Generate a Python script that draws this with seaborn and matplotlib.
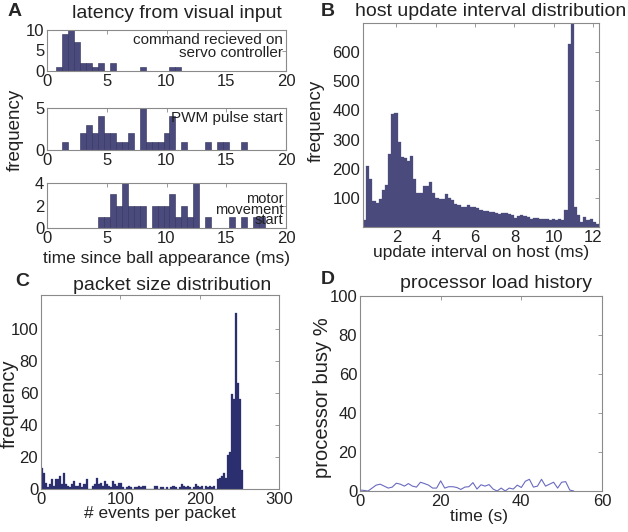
import numpy as np
import pandas as pd
import matplotlib
matplotlib.use('Agg')
import matplotlib.pyplot as plt
import seaborn as sns

# A: latency histograms (bin centres in ms, counts)
cmd_centers = [1.0, 1.5, 2.0, 2.5, 3.0, 3.5, 4.0, 4.5, 5.5, 8.0, 10.5, 11.0]
cmd_counts = [1, 9, 10, 7, 2, 2, 1, 2, 2, 1, 1, 1]
pwm_centers = [1.5, 3.0, 3.5, 4.0, 4.5, 5.0, 5.5, 6.0, 6.5, 7.0, 8.0, 8.5, 9.0,
               9.5, 10.0, 10.5, 11.5, 13.5, 14.5, 15.0, 16.5]
pwm_counts = [1, 2, 3, 2, 4, 2, 2, 1, 1, 2, 5, 1, 1, 1, 2, 4, 1, 1, 1, 1, 1]
motor_centers = [4.5, 5.0, 5.5, 6.0, 6.5, 7.0, 7.5, 8.0, 9.0, 9.5, 10.0, 10.5,
                 11.0, 11.5, 12.0, 12.5, 13.5, 15.5, 16.5, 17.5, 18.0]
motor_counts = [1, 1, 3, 2, 4, 2, 2, 2, 2, 2, 2, 3, 1, 2, 1, 4, 1, 1, 1, 1, 1]

# B: host update interval, 75 bins between 0.3 and 12.3 ms
host_counts = [25, 210, 165, 90, 82, 95, 128, 144, 250, 388,
               390, 290, 239, 236, 228, 245, 165, 117, 117, 140,
               140, 153, 115, 100, 95, 95, 112, 98, 92, 80,
               75, 68, 68, 74, 70, 70, 65, 58, 55, 56,
               52, 50, 47, 44, 48, 48, 44, 40, 32, 38,
               40, 38, 34, 26, 30, 32, 28, 26, 27, 24,
               28, 25, 26, 24, 58, 628, 800, 70, 42, 18,
               35, 25, 28, 18, 12]

# C: packet size, 100 bins between 0 and 255 events
packet_counts = [13, 10, 4, 1, 3, 6, 2, 6, 6, 8, 3, 10,
                 3, 2, 1, 3, 5, 2, 2, 4, 1, 3, 6, 0,
                 0, 2, 3, 7, 3, 4, 2, 5, 3, 2, 1, 5, 3, 2, 4, 4,
                 1, 0, 1, 2, 1, 0, 1, 1, 2, 1, 2, 2, 0, 0, 0, 0,
                 2, 2, 0, 1, 1, 0, 1, 0, 1, 2, 1, 0, 1, 3, 2, 1,
                 2, 1, 0, 1, 3, 2, 1, 2, 0, 2, 1, 2, 1, 2,
                 0, 6, 7, 8, 10, 7, 21, 23, 59, 56, 110, 66, 56, 12]

# D: processor load history
load_time = list(range(54))
load_busy = [0.5, 0.3, 0, 1.5, 3, 3.5, 2.5, 1.5, 2, 4,
             3.5, 2.5, 3.8, 2.5, 2, 4.5, 3.8, 3, 1.5, 1.5,
             5.2, 1.5, 2.2, 2.2, 1.8, 0.8, 2, 2.2, 4.3, 1,
             3.2, 2.5, 3.3, 1, 0, 1.5, 0, 1.5, 1, 3,
             1.8, 5, 6, 2, 2.5, 6, 2.5, 3.5, 4.5, 1.5,
             4.5, 4.8, 0.5, 0]

sns.set_style('white')
plt.rcParams['font.family'] = ['Liberation Sans', 'DejaVu Sans']
plt.rcParams['font.size'] = 12

bar_col = '#4b4a7d'
edge_col = '#2f2e57'
navy = '#2b2f70'
line_col = '#6a6ac0'
txt = '#222222'

fig = plt.figure(figsize=(6.28, 5.32), dpi=100)
W, H = 628, 532


def add_ax(x0, y0, x1, y1):
    # pixel box -> figure fraction
    return fig.add_axes([x0 / W, 1 - y1 / H, (x1 - x0) / W, (y1 - y0) / H])


def matlab_style(ax):
    for s in ax.spines.values():
        s.set_color('#8a8a8a')
        s.set_linewidth(0.8)
    ax.tick_params(direction='in', length=3, width=0.6, color='#8a8a8a',
                   top=True, right=True, labelsize=12, pad=2,
                   labelcolor=txt)
    ax.set_xlabel('')
    ax.set_ylabel('')


def weighted_hist(ax, centers, counts, edges, **kw):
    df = pd.DataFrame({'x': centers, 'n': counts})
    sns.histplot(data=df, x='x', weights='n', bins=list(edges), ax=ax,
                 alpha=1, **kw)


a_edges = np.arange(0.25, 20.26, 0.5)
a_panels = [
    (add_ax(47, 30, 286, 71), cmd_centers, cmd_counts, 10, [0, 5, 10]),
    (add_ax(47, 108, 286, 150), pwm_centers, pwm_counts, 5, [0, 5]),
    (add_ax(47, 183, 286, 228), motor_centers, motor_counts, 4, [0, 2, 4]),
]
for ax, cen, cnt, top, yt in a_panels:
    weighted_hist(ax, cen, cnt, a_edges, color=bar_col, edgecolor=edge_col, linewidth=0.4)
    ax.set_xlim(0, 20)
    ax.set_ylim(0, top)
    ax.set_xticks([0, 5, 10, 15, 20])
    ax.set_yticks(yt)
    matlab_style(ax)

ax_cmd, ax_pwm, ax_mot = [p[0] for p in a_panels]
ax_cmd.text(0.988, 0.6, 'command recieved on\nservo controller', transform=ax_cmd.transAxes,
            ha='right', va='center', fontsize=11, linespacing=0.95, color=txt)
ax_pwm.text(0.988, 0.76, 'PWM pulse start', transform=ax_pwm.transAxes,
            ha='right', va='center', fontsize=11, color=txt)
for yy, word in [(0.64, 'motor'), (0.41, 'movement'), (0.18, 'start')]:
    ax_mot.text(0.988, yy, word, transform=ax_mot.transAxes,
                ha='right', va='center', fontsize=10.5, color=txt)
ax_mot.set_xlabel('time since ball appearance (ms)', fontsize=12.5, color=txt)
ax_mot.xaxis.set_label_coords(0.5, -0.5)
fig.text(15 / W, 1 - 130 / H, 'frequency', rotation=90, ha='center', va='center',
         fontsize=13.5, color=txt)

# B
ax_b = add_ax(363, 23, 599, 227)
b_edges = np.linspace(0.3, 12.3, 76)
b_centers = (b_edges[:-1] + b_edges[1:]) / 2
weighted_hist(ax_b, b_centers, host_counts, b_edges, color=bar_col,
              edgecolor=bar_col, linewidth=0.2)
ax_b.set_xlim(0.3, 12.3)
ax_b.set_ylim(0, 700)
ax_b.set_xticks([2, 4, 6, 8, 10, 12])
ax_b.set_yticks([100, 200, 300, 400, 500, 600])
matlab_style(ax_b)
ax_b.set_xlabel('update interval on host (ms)', fontsize=12.5, color=txt)
ax_b.xaxis.set_label_coords(0.5, -0.09)
ax_b.set_ylabel('frequency', fontsize=13.5, color=txt)
ax_b.yaxis.set_label_coords(-0.16, 0.52)

# C
ax_c = add_ax(41, 295, 279, 489)
c_edges = np.linspace(0, 255, 101)
c_centers = (c_edges[:-1] + c_edges[1:]) / 2
weighted_hist(ax_c, c_centers, packet_counts, c_edges, color=navy,
              edgecolor=navy, linewidth=0.2)
ax_c.set_xlim(0, 300)
ax_c.set_ylim(0, 121)
ax_c.set_xticks([0, 100, 200, 300])
ax_c.set_yticks([0, 20, 40, 60, 80, 100])
matlab_style(ax_c)
ax_c.set_xlabel('# events per packet', fontsize=12.5, color=txt)
ax_c.xaxis.set_label_coords(0.5, -0.09)
ax_c.set_ylabel('frequency', fontsize=14.5, color=txt)
ax_c.yaxis.set_label_coords(-0.092, 0.44)

# D
ax_d = add_ax(360, 296, 602, 491)
sns.lineplot(x=load_time, y=load_busy, ax=ax_d, color=line_col, linewidth=0.8)
ax_d.set_xlim(0, 60)
ax_d.set_ylim(0, 100)
ax_d.set_xticks([0, 20, 40, 60])
ax_d.set_yticks([0, 20, 40, 60, 80, 100])
matlab_style(ax_d)
ax_d.set_xlabel('time (s)', fontsize=12.5, color=txt)
ax_d.xaxis.set_label_coords(0.49, -0.09)
ax_d.set_ylabel('processor busy %', fontsize=14.5, color=txt)
ax_d.yaxis.set_label_coords(-0.115, 0.48)

# titles and panel letters
titles = [(177, 14, 'latency from visual input'), (491, 11, 'host update interval distribution'),
          (172, 286, 'packet size distribution'), (496, 283, 'processor load history')]
for x, y, t in titles:
    fig.text(x / W, 1 - y / H, t, ha='center', va='center', fontsize=14, color=txt)
for x, y, t in [(15, 12, 'A'), (328, 12, 'B'), (22, 281, 'C'), (328, 280, 'D')]:
    fig.text(x / W, 1 - y / H, t, ha='center', va='center', fontsize=14, fontweight='bold')

fig.savefig('out.png', dpi=100)
